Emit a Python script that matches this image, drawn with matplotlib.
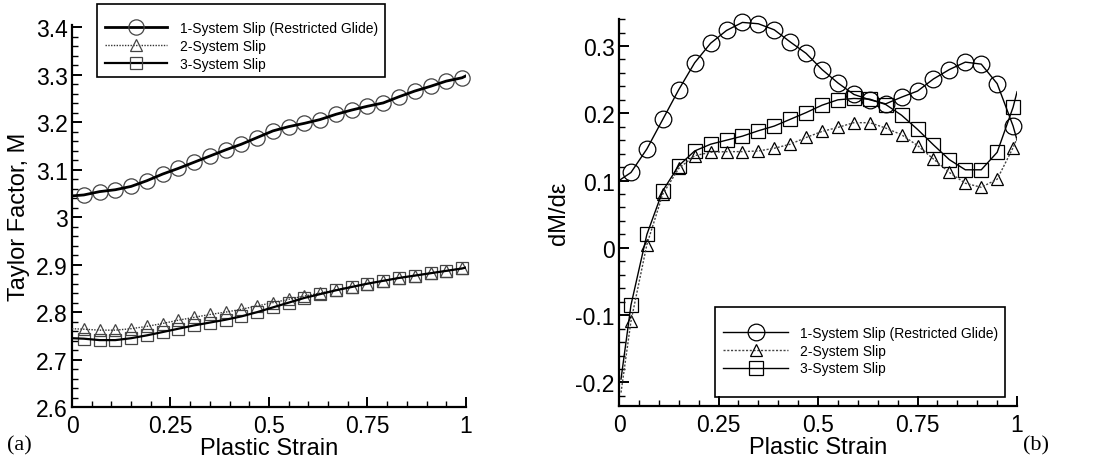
import matplotlib
matplotlib.use("Agg")
import matplotlib.pyplot as plt
from matplotlib.patches import Rectangle
from matplotlib.ticker import MultipleLocator, AutoMinorLocator, FormatStrFormatter

plt.rcParams['font.family'] = ['Liberation Sans', 'DejaVu Sans']

# marker positions (plastic strain)
strain = [0.03, 0.07, 0.11, 0.15, 0.19, 0.23, 0.27, 0.31, 0.35, 0.39, 0.43, 0.47, 0.51,
          0.55, 0.59, 0.63, 0.67, 0.71, 0.75, 0.79, 0.83, 0.87, 0.91, 0.95, 0.99]

# (a) Taylor factor M
m_1sys = [3.047, 3.054, 3.058, 3.065, 3.077, 3.091, 3.103, 3.116, 3.129, 3.142, 3.154, 3.168, 3.182,
          3.191, 3.198, 3.206, 3.217, 3.226, 3.234, 3.241, 3.254, 3.266, 3.276, 3.287, 3.294]
m_2sys = [2.764, 2.762, 2.762, 2.765, 2.770, 2.776, 2.783, 2.789, 2.795, 2.800, 2.806, 2.813, 2.820,
          2.827, 2.834, 2.840, 2.847, 2.854, 2.860, 2.866, 2.872, 2.877, 2.882, 2.887, 2.892]
m_3sys = [2.744, 2.741, 2.741, 2.745, 2.751, 2.758, 2.765, 2.772, 2.778, 2.784, 2.791, 2.800, 2.810,
          2.820, 2.830, 2.838, 2.846, 2.853, 2.860, 2.866, 2.872, 2.877, 2.882, 2.887, 2.892]
m_start = [3.045, 2.765, 2.745]   # curve values at strain 0
m_end = [3.298, 2.894, 2.894]     # curve values at strain 1

# (b) dM/de
d_1sys = [0.112, 0.147, 0.191, 0.235, 0.275, 0.304, 0.323, 0.335, 0.333, 0.324, 0.306, 0.289, 0.265,
          0.245, 0.228, 0.220, 0.214, 0.224, 0.233, 0.251, 0.265, 0.276, 0.273, 0.244, 0.181]
d_2sys = [-0.109, 0.005, 0.080, 0.118, 0.137, 0.142, 0.143, 0.143, 0.144, 0.148, 0.154, 0.164, 0.173,
          0.179, 0.186, 0.186, 0.178, 0.168, 0.152, 0.132, 0.112, 0.096, 0.090, 0.102, 0.149]
d_3sys = [-0.085, 0.020, 0.085, 0.122, 0.144, 0.154, 0.160, 0.166, 0.174, 0.181, 0.191, 0.201, 0.212,
          0.220, 0.222, 0.221, 0.213, 0.197, 0.176, 0.153, 0.131, 0.116, 0.116, 0.142, 0.209]
d_start_x = [0.0, 0.005, 0.005]
d_start = [0.100, -0.215, -0.195]
d_end = [0.160, 0.163, 0.232]

labels = ['1-System Slip (Restricted Glide)', '2-System Slip', '3-System Slip']
markers = ['o', '^', 's']


def setup_axes(ax):
    ax.spines['top'].set_visible(False)
    ax.spines['right'].set_visible(False)
    ax.spines['left'].set_linewidth(1.6)
    ax.spines['bottom'].set_linewidth(1.6)
    ax.xaxis.set_major_locator(MultipleLocator(0.25))
    ax.xaxis.set_minor_locator(AutoMinorLocator(5))
    ax.yaxis.set_major_locator(MultipleLocator(0.1))
    ax.yaxis.set_minor_locator(AutoMinorLocator(5))
    ax.xaxis.set_major_formatter(FormatStrFormatter('%g'))
    ax.yaxis.set_major_formatter(FormatStrFormatter('%g'))
    ax.tick_params(which='major', direction='in', length=7, width=1.4, labelsize=16.5)
    ax.tick_params(which='minor', direction='in', length=4, width=1.0)
    ax.tick_params(axis='x', pad=5)
    ax.tick_params(axis='y', pad=3)
    ax.set_xlim(0, 1)
    ax.set_xlabel('Plastic Strain', fontsize=17, labelpad=0)


def px_box(fig, x0, y0, x1, y1):
    # frame given in pixel corners (top-left origin) -> figure fraction
    W, H = 1106.0, 464.0
    r = Rectangle((x0 / W, 1 - y1 / H), (x1 - x0) / W, (y1 - y0) / H,
                  transform=fig.transFigure, fill=False, ec='black', lw=1.2, zorder=5)
    fig.patches.append(r)


fig = plt.figure(figsize=(11.06, 4.64), dpi=100)

# ---- (a)
ax1 = fig.add_axes([0.0651, 0.1207, 0.3562, 0.823])
setup_axes(ax1)
series_a = [m_1sys, m_2sys, m_3sys]
styles_a = [dict(color='black', lw=2.0, ls='-'),
            dict(color='#333333', lw=1.0, ls=(0, (1, 1))),
            dict(color='black', lw=1.6, ls='-')]
msizes_a = [11, 8, 9]
for i in range(3):
    xs = [0.0] + strain + [1.0]
    ys = [m_start[i]] + series_a[i] + [m_end[i]]
    ax1.plot(xs, ys, **styles_a[i], zorder=3)
    ax1.plot(strain, series_a[i], ls='none', marker=markers[i], ms=msizes_a[i],
             mfc='none', mec='#444444', mew=0.9, zorder=2, clip_on=False)
ax1.set_ylim(2.6, 3.405)
ax1.set_ylabel('Taylor Factor, M', fontsize=17, labelpad=4)

handles_a = []
for i in range(3):
    h, = ax1.plot([], [], **styles_a[i], marker=markers[i], ms=msizes_a[i],
                  mfc='none', mec='#444444', mew=0.9)
    handles_a.append(h)
fig.legend(handles_a, labels, loc='upper left', bbox_to_anchor=(105 / 1106, 1 - 22 / 464),
           borderaxespad=0, borderpad=0, fontsize=10, handlelength=4.45, frameon=False,
           labelspacing=0.27, handletextpad=0.95)
px_box(fig, 97, 5, 385, 78)

# ---- (b)
ax2 = fig.add_axes([0.5597, 0.1228, 0.3599, 0.834])
setup_axes(ax2)
series_b = [d_1sys, d_2sys, d_3sys]
styles_b = [dict(color='black', lw=1.0, ls='-'),
            dict(color='#444444', lw=1.0, ls=(0, (1.5, 1.2))),
            dict(color='black', lw=1.0, ls='-')]
msizes_b = [12, 9, 10]
for i in range(3):
    xs = [d_start_x[i]] + strain + [1.0]
    ys = [d_start[i]] + series_b[i] + [d_end[i]]
    ax2.plot(xs, ys, **styles_b[i], zorder=3)
    ax2.plot(strain, series_b[i], ls='none', marker=markers[i], ms=msizes_b[i],
             mfc='none', mec='black', mew=0.9, zorder=2, clip_on=False)
ax2.set_ylim(-0.235, 0.34)
ax2.set_ylabel('dM/d\u03b5', fontsize=17, labelpad=4)

handles_b = []
for i in range(3):
    h, = ax2.plot([], [], **styles_b[i], marker=markers[i], ms=msizes_b[i],
                  mfc='none', mec='black', mew=0.9)
    handles_b.append(h)
fig.legend(handles_b, labels, loc='upper left', bbox_to_anchor=(723 / 1106, 1 - 327 / 464),
           borderaxespad=0, borderpad=0, fontsize=10, handlelength=4.7, frameon=False,
           labelspacing=0.27, handletextpad=0.85)
px_box(fig, 715, 308, 1005, 398)

fig.text(0.006, 0.03, '(a)', family=['Liberation Serif', 'DejaVu Serif'], fontsize=16)
fig.text(0.925, 0.03, '(b)', family=['Liberation Serif', 'DejaVu Serif'], fontsize=16)

fig.savefig('out.png', dpi=100)
